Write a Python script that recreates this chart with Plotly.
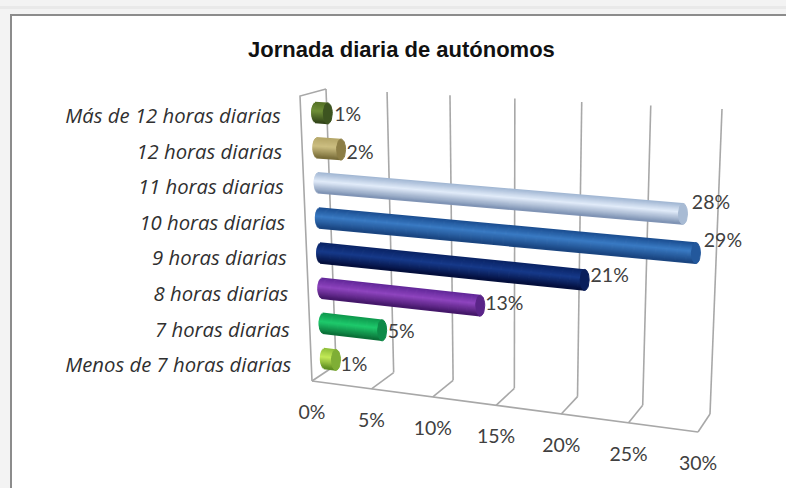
"""Jornada diaria de autónomos: cilindros horizontales en perspectiva."""

import numpy as np
import plotly.graph_objects as go

CATEGORIAS = [
    "Menos de 7 horas diarias", "7 horas diarias", "8 horas diarias", "9 horas diarias",
    "10 horas diarias", "11 horas diarias", "12 horas diarias", "Más de 12 horas diarias",
]
VALORES = [1, 5, 13, 21, 29, 28, 2, 1]
TICKS = [0, 5, 10, 15, 20, 25, 30]
TITULO = "Jornada diaria de autónomos"

# color por barra: borde superior, brillo, borde inferior, tapa
COLORES = [
    ("#8fbf3a", "#c4ea58", "#5f8f22", "#7fae35"),
    ("#0f9a4e", "#1fca6c", "#0b7038", "#0e8a48"),
    ("#63289a", "#8f45bf", "#45186a", "#5a2488"),
    ("#0a2466", "#173a8a", "#040f3c", "#0a1f5c"),
    ("#1c4f92", "#3a7bc4", "#1a4580", "#23589c"),
    ("#a3b8d4", "#e2ecfa", "#8094b5", "#a8bbd4"),
    ("#b5a768", "#cdbf82", "#7a6e3a", "#8c7d45"),
    ("#557226", "#6f8f38", "#33461a", "#3d5420"),
]
# ajuste a mano de las etiquetas respecto al final de la barra
NUDGE = [(18, 6), (19, 3), (24, -1), (25, -3), (27, -11), (28, -10), (19, 5), (20, 3)]

GRID = "#a8a8a8"
TEXTO = "#404040"
RADIO = 10.5
RX = 4.5
N_TIRAS = 20


def warp(v):
    # escorzo del eje de valores
    t = v / TICKS[-1]
    return t / (t + 1.097 * (1 - t))


def lerp(a, b, s):
    return (a[0] + (b[0] - a[0]) * s, a[1] + (b[1] - a[1]) * s)


def plano(v, h, suelo, techo):
    s = warp(v)
    return lerp(lerp(suelo[0], suelo[1], s), lerp(techo[0], techo[1], s), h)


FRENTE_SUELO = ((312, 381), (698, 432))
FRENTE_TECHO = ((300, 96), (708, 127))
FONDO_SUELO = ((336, 365), (710, 414))
FONDO_TECHO = ((326, 89), (722, 109))
MEDIO_SUELO = ((325, 376), (704, 426))
MEDIO_TECHO = ((315, 95), (715, 121))


def mezcla(c1, c2, s):
    a = [int(c1[i:i + 2], 16) for i in (1, 3, 5)]
    b = [int(c2[i:i + 2], 16) for i in (1, 3, 5)]
    return "rgb(%d,%d,%d)" % tuple(a[i] + (b[i] - a[i]) * s for i in range(3))


def linea(fig, puntos, color=GRID, width=1.6):
    fig.add_trace(go.Scatter(
        x=[p[0] for p in puntos], y=[p[1] for p in puntos],
        mode="lines", line=dict(color=color, width=width),
        hoverinfo="skip", showlegend=False,
    ))


fig = go.Figure()

# paredes y suelo
for v in TICKS:
    linea(fig, [plano(v, 0, FONDO_SUELO, FONDO_TECHO), plano(v, 1, FONDO_SUELO, FONDO_TECHO)])
    linea(fig, [plano(v, 0, FRENTE_SUELO, FRENTE_TECHO), plano(v, 0, FONDO_SUELO, FONDO_TECHO)])
linea(fig, [plano(0, 0, FRENTE_SUELO, FRENTE_TECHO), plano(TICKS[-1], 0, FRENTE_SUELO, FRENTE_TECHO)])
linea(fig, [plano(0, 0, FRENTE_SUELO, FRENTE_TECHO), plano(0, 1, FRENTE_SUELO, FRENTE_TECHO),
            plano(0, 1, FONDO_SUELO, FONDO_TECHO)])

# cilindros
for i, (valor, col) in enumerate(zip(VALORES, COLORES)):
    h = (i + 0.5) / len(VALORES)
    x0, y0 = plano(0, h, MEDIO_SUELO, MEDIO_TECHO)
    x1, y1 = plano(valor, h, MEDIO_SUELO, MEDIO_TECHO)
    for u in np.linspace(-1, 1, N_TIRAS):
        curva = RX * np.sqrt(max(1 - u * u, 0.02))
        if u < -0.15:
            color = mezcla(col[0], col[1], (u + 1) / 0.85)
        else:
            color = mezcla(col[1], col[2], (u + 0.15) / 1.15)
        dy = u * RADIO * 0.94
        linea(fig, [(x0 - curva, y0 + dy), (x1 - curva * 0.2, y1 + dy)],
              color=color, width=2 * RADIO / N_TIRAS + 0.8)
    ang = np.linspace(0, 2 * np.pi, 40)
    fig.add_trace(go.Scatter(
        x=x1 + RX * np.cos(ang), y=y1 + RADIO * np.sin(ang),
        mode="lines", fill="toself", fillcolor=col[3],
        line=dict(color=col[3], width=1), hoverinfo="skip", showlegend=False,
    ))

# etiquetas de valor
fig.add_trace(go.Scatter(
    x=[plano(v, (i + 0.5) / len(VALORES), MEDIO_SUELO, MEDIO_TECHO)[0] + NUDGE[i][0]
       for i, v in enumerate(VALORES)],
    y=[plano(v, (i + 0.5) / len(VALORES), MEDIO_SUELO, MEDIO_TECHO)[1] + NUDGE[i][1]
       for i, v in enumerate(VALORES)],
    mode="text", text=[f"{v}%" for v in VALORES], textposition="middle center",
    textfont=dict(family="Lato", size=19.5, color=TEXTO),
    hoverinfo="skip", showlegend=False,
))

# etiquetas del eje de valores
fig.add_trace(go.Scatter(
    x=[plano(v, 0, FRENTE_SUELO, FRENTE_TECHO)[0] for v in TICKS],
    y=[plano(v, 0, FRENTE_SUELO, FRENTE_TECHO)[1] + 33 for v in TICKS],
    mode="text", text=[f"{v}%" for v in TICKS], textposition="middle center",
    textfont=dict(family="Lato", size=19.5, color=TEXTO),
    hoverinfo="skip", showlegend=False,
))

# etiquetas de categoría
fig.add_trace(go.Scatter(
    x=[plano(0, (i + 0.5) / len(CATEGORIAS), FRENTE_SUELO, FRENTE_TECHO)[0] - 20
       for i in range(len(CATEGORIAS))],
    y=[plano(0, (i + 0.5) / len(CATEGORIAS), FRENTE_SUELO, FRENTE_TECHO)[1] + 4
       for i in range(len(CATEGORIAS))],
    mode="text", text=CATEGORIAS, textposition="middle left",
    textfont=dict(family="Open Sans", size=20.3, color="#303030", style="italic"),
    hoverinfo="skip", showlegend=False,
))

fig.update_layout(
    width=786, height=488,
    margin=dict(l=0, r=0, t=0, b=0),
    paper_bgcolor="#f3f3f3",
    plot_bgcolor="#f3f3f3",
    xaxis=dict(range=[0, 786], visible=False, fixedrange=True),
    yaxis=dict(range=[488, 0], visible=False, fixedrange=True),
    annotations=[dict(
        x=401, y=49, xref="x", yref="y", text=f"<b>{TITULO}</b>", showarrow=False,
        font=dict(family="Liberation Sans", size=22, color="#111111"),
    )],
    shapes=[
        dict(type="rect", x0=11, y0=15, x1=800, y1=500, layer="below",
             fillcolor="#ffffff", line=dict(color="#8c8c8c", width=2)),
        dict(type="rect", x0=0, y0=6, x1=786, y1=9, layer="below",
             fillcolor="#e9e9e9", line=dict(width=0)),
    ],
)

# el body trae 8px de margen por defecto
fig.write_html("out.html", config=dict(displayModeBar=False),
               post_script="document.body.style.margin='0';document.body.style.overflow='hidden';")
